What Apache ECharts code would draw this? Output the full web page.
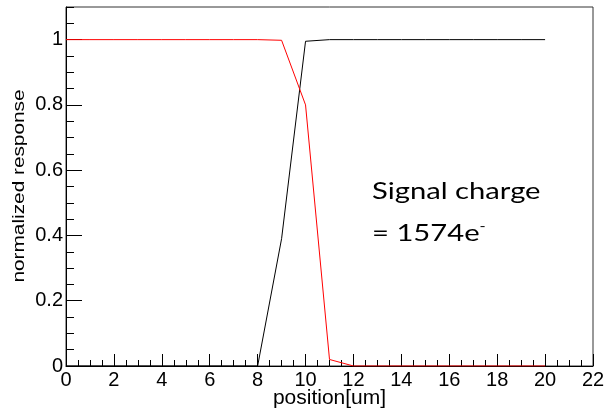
<!DOCTYPE html>
<html><head><meta charset="utf-8">
<script src="https://cdn.jsdelivr.net/npm/echarts@6/dist/echarts.min.js"></script>
<style>html,body{margin:0;padding:0;background:#fff}#c{width:606px;height:409px}</style>
</head><body><div id="c"></div>
<script>
const positions = [0,1,2,3,4,5,6,7,8,9,10,11,12,13,14,15,16,17,18,19,20];
const blackResponse = [0,0,0,0,0,0,0,0,0,0.39,0.995,1,1,1,1,1,1,1,1,1,1];
const redResponse = [1,1,1,1,1,1,1,1,1,0.998,0.80,0.02,0,0,0,0,0,0,0,0,0];
const xTitle = 'position[um]';
const yTitle = 'normalized response';
const noteLine1 = 'Signal charge';
const noteLine2 = '= 1574e';

const chart = echarts.init(document.getElementById('c'), null, {renderer:'canvas'});
const F = '"Liberation Sans", Arial, sans-serif';
const NF = 'Lato, "Open Sans", sans-serif';
const axisCommon = {
  axisLine:{show:true, onZero:false, lineStyle:{color:'#000', width:1}},
  splitLine:{show:false}
};
chart.setOption({
  animation:false,
  backgroundColor:'#fff',
  grid:{left:66, right:13, top:7, bottom:43, show:true, borderColor:'#333', borderWidth:1,
    backgroundColor:'transparent', containLabel:false, outerBoundsMode:'none'},
  xAxis:[{
    type:'value', min:0, max:22, interval:2,
    ...axisCommon,
    axisTick:{show:true, inside:true, length:12, lineStyle:{color:'#000'}},
    minorTick:{show:true, splitNumber:4, length:6, lineStyle:{color:'#000'}},
    axisLabel:{fontSize:20, fontFamily:F, color:'#000', margin:4},
    name:xTitle, nameLocation:'middle', nameGap:22, nameMoveOverlap:false,
    nameTextStyle:{fontSize:21, fontFamily:F, color:'#000'}
  }],
  yAxis:[{
    type:'value', min:0, max:1.1, interval:0.2,
    ...axisCommon,
    axisTick:{show:true, inside:true, length:16, lineStyle:{color:'#000'}},
    axisLabel:{fontSize:20, fontFamily:F, color:'#000', margin:3, showMaxLabel:false,
      formatter:v=>String(Math.round(v*10)/10)}
  },{
    type:'value', min:0, max:1.1, interval:0.05, position:'left',
    axisLine:{show:false}, splitLine:{show:false},
    axisTick:{show:true, inside:true, length:8, lineStyle:{color:'#000'}},
    axisLabel:{show:false}
  }],
  series:[
    {type:'line', name:'black', data:positions.map((p,i)=>[p,blackResponse[i]]), showSymbol:false, symbol:'none',
      lineStyle:{color:'#000', width:1}, z:2},
    {type:'line', name:'red', data:positions.map((p,i)=>[p,redResponse[i]]), showSymbol:false, symbol:'none',
      lineStyle:{color:'#ff0000', width:1}, z:3}
  ],
  graphic:[
    {type:'text', x:20, y:186, rotation:Math.PI/2, scaleX:1.3, scaleY:1,
      style:{text:yTitle, fontSize:16, fontFamily:F, fill:'#000', align:'center', verticalAlign:'middle'}},
    {type:'text', x:372, y:180, scaleX:1.27,
      style:{text:noteLine1, fontSize:23, fontFamily:NF, fill:'#000', verticalAlign:'top'}},
    {type:'text', x:372, y:220, scaleX:1.27,
      style:{text:'{a|' + noteLine2 + '}{s|-}', verticalAlign:'top', rich:{
        a:{fontSize:23, fontFamily:NF, fill:'#000'},
        s:{fontSize:13, fontFamily:NF, fill:'#000', verticalAlign:'top', padding:[0,0,14,0]}
      }}}
  ]
});
</script></body></html>
